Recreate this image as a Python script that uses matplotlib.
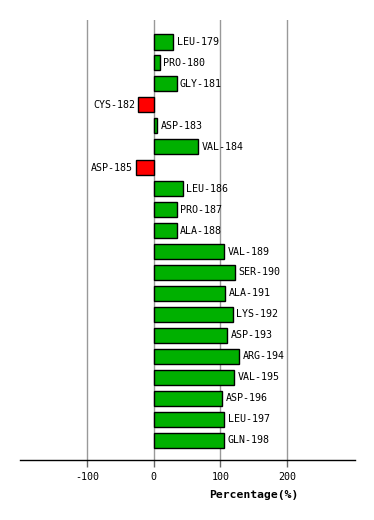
import matplotlib
matplotlib.use('Agg')
import matplotlib.pyplot as plt

residues = ['LEU-179', 'PRO-180', 'GLY-181', 'CYS-182', 'ASP-183', 'VAL-184',
            'ASP-185', 'LEU-186', 'PRO-187', 'ALA-188', 'VAL-189', 'SER-190',
            'ALA-191', 'LYS-192', 'ASP-193', 'ARG-194', 'VAL-195', 'ASP-196',
            'LEU-197', 'GLN-198']
values = [29, 9, 34, -24, 5, 67, -27, 43, 34, 34, 106, 122,
          107, 119, 110, 128, 121, 103, 106, 106]
xticks = [-100, 0, 100, 200]

fig = plt.figure(figsize=(3.74, 5.2), dpi=100)
ax = fig.add_axes([20 / 374, 60 / 520, 335 / 374, 440 / 520])

ypos = list(range(len(residues)))
colors = ['#00b000' if v >= 0 else '#ff0000' for v in values]
ax.barh(ypos, values, height=0.72, color=colors, edgecolor='black', linewidth=1, zorder=3)

# labels next to each bar
for y, v, name in zip(ypos, values, residues):
    if v >= 0:
        ax.text(v + 5, y, name, ha='left', va='center', fontsize=7.2,
                family='DejaVu Sans Mono', zorder=4)
    else:
        ax.text(v - 4, y, name, ha='right', va='center', fontsize=7.2,
                family='DejaVu Sans Mono', zorder=4)

ax.set_xlim(-201, 302)
ax.set_ylim(19.95, -1.05)
ax.set_xticks(xticks)
ax.set_xticklabels([str(t) for t in xticks], family='DejaVu Sans Mono', fontsize=7.2)
ax.set_yticks([])
ax.grid(axis='x', color='#999999', linewidth=1, zorder=0)
for s in ['left', 'right', 'top']:
    ax.spines[s].set_visible(False)
ax.spines['bottom'].set_linewidth(1)
ax.tick_params(axis='x', length=5, width=1, color='#666666', pad=4)

fig.text(254 / 374, 1 - 495 / 520, 'Percentage(%)', ha='center', va='center',
         fontsize=8.2, fontweight='bold', family='DejaVu Sans Mono')

fig.savefig('out.png', dpi=100)
